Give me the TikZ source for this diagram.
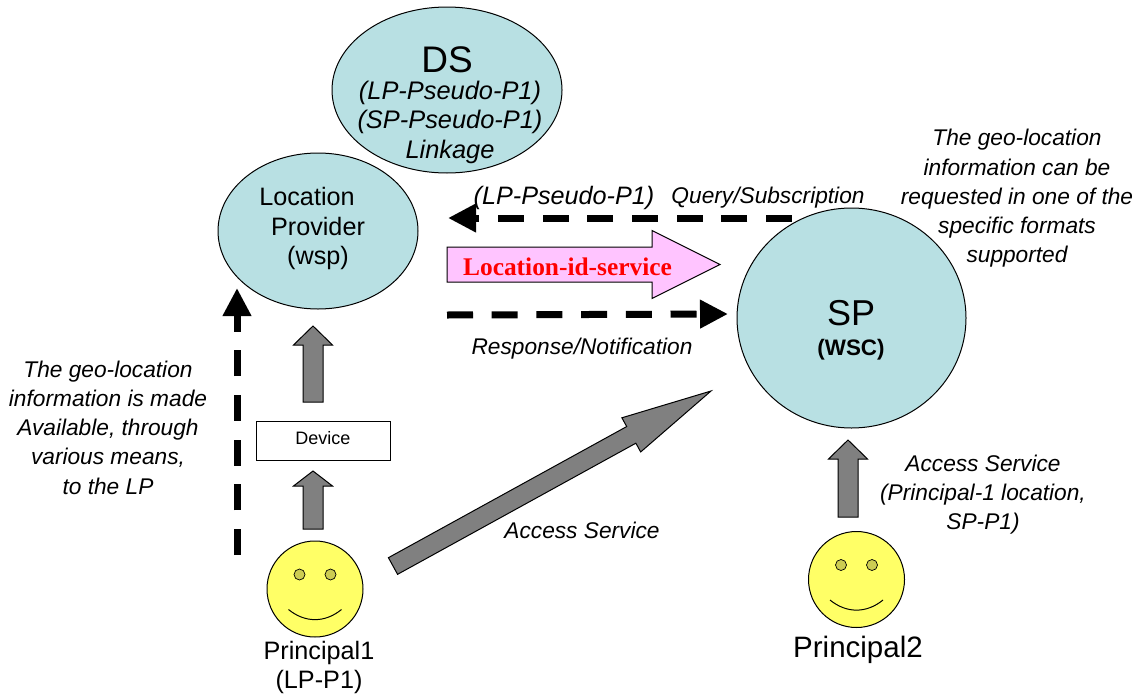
\documentclass[tikz,border=0pt]{standalone}
\usepackage{fontspec}
\setmainfont{Liberation Sans}
\newfontfamily\serifface{Liberation Serif}
\usetikzlibrary{positioning, arrows.meta, calc, shapes.geometric}
\definecolor{nodeteal}{HTML}{B8E0E3}
\definecolor{faceyellow}{HTML}{FFFF66}
\definecolor{eyeyellow}{HTML}{CCCC52}
\definecolor{servicepink}{HTML}{FFC4FF}
\definecolor{arrowgray}{HTML}{808080}

\tikzset{
    blockarrow/.style args={#1/#2/#3}{draw=black, line width=1pt, to path={
        ($(\tikztostart)!#1!90:(\tikztotarget)$)
        -- ($(\tikztotarget)!#3!(\tikztostart)!#1!-90:(\tikztostart)$)
        -- ($(\tikztotarget)!#3!(\tikztostart)!#2!-90:(\tikztostart)$)
        -- (\tikztotarget)
        -- ($(\tikztotarget)!#3!(\tikztostart)!#2!90:(\tikztostart)$)
        -- ($(\tikztotarget)!#3!(\tikztostart)!#1!90:(\tikztostart)$)
        -- ($(\tikztostart)!#1!-90:(\tikztotarget)$) -- cycle}},
    dashline/.style={line width=7pt, dash pattern=on 26pt off 18.7pt, -{Triangle[length=28pt,width=27pt]}},
    bubble/.style={ellipse, draw, line width=1pt, fill=nodeteal, inner sep=0pt},
    plain/.style={font=\fontsize{25.2}{29.5}\selectfont, align=center, inner sep=0pt},
    note/.style={font=\fontsize{22.7}{29.3}\selectfont\itshape, align=center, inner sep=0pt},
    smile/.pic={
        \node (-face) [circle, draw, line width=1pt, fill=faceyellow, minimum size=96pt, inner sep=0pt] at (0,0) {};
        \node (-eyea) [circle, draw, line width=0.7pt, fill=eyeyellow, minimum size=11pt, inner sep=0pt] at (-15.5,-14.5) {};
        \node (-eyeb) [circle, draw, line width=0.7pt, fill=eyeyellow, minimum size=11pt, inner sep=0pt] at (15.5,-14.5) {};
        \draw[line width=1pt] (-26.5,20.5) .. controls (-10,34) and (10,34) .. (26.5,20.5);
    },
}

\begin{document}
\begin{tikzpicture}[x=1pt, y=-1pt, >=Triangle]
\useasboundingbox (0,0) rectangle (1139,696);

% Ellipses
\node (lp) [bubble, minimum width=200pt, minimum height=156pt] at (318,231) {};
\node (ds) [bubble, minimum width=230pt, minimum height=166pt] at (447,90) {};
\node (sp) [bubble, minimum width=229pt, minimum height=220pt] at (851.5,318) {};

\node (dsname) [font=\fontsize{37}{37}\selectfont, inner sep=0pt] at (447,60) {DS};
\node (dsnote) [font=\fontsize{25.4}{29.5}\selectfont\itshape, align=center, inner sep=0pt] at (450,122) {(LP-Pseudo-P1)\\(SP-Pseudo-P1)\\Linkage};
\node (lpname) [plain, align=center] at (318,228.5) {\hspace*{-22pt}Location\\Provider\\(wsp)};
\node (spname) [font=\fontsize{36}{36}\selectfont, inner sep=0pt] at (851,313) {SP};
\node (spkind) [font=\fontsize{22.4}{22.4}\selectfont\bfseries, inner sep=0pt] at (851,350) {(WSC)};

% Device box
\node (device) [draw, line width=1pt, minimum width=134pt, minimum height=39pt, inner sep=0pt, font=\fontsize{18}{18}\selectfont, anchor=center] at (323,440.5) {\raisebox{6pt}{Device}};

% Principals
\pic (pa) at (315,589) {smile};
\pic (pb) at (856.5,579.5) {smile};
\node (panote) [plain, font=\fontsize{25.2}{28.5}\selectfont] at (319,667.5) {Principal1\\(LP-P1)};
\node (pbnote) [font=\fontsize{29.5}{30}\selectfont, inner sep=0pt] at (858,650) {Principal2};

% Block arrows
\coordinate (atail) at (313,529);
\coordinate (ahead) at (313,471);
\coordinate (btail) at (313,402);
\coordinate (bhead) at (313,326);
\coordinate (ctail) at (848,517);
\coordinate (chead) at (848,440);
\coordinate (dtail) at (393,566);
\coordinate (dhead) at (711,391);
\coordinate (stail) at (447,264.5);
\coordinate (shead) at (720,264.5);
\draw[blockarrow=10pt/19.5pt/15pt, fill=arrowgray] (atail) to (ahead);
\draw[blockarrow=10pt/19.5pt/19pt, fill=arrowgray] (btail) to (bhead);
\draw[blockarrow=10pt/19.5pt/19pt, fill=arrowgray] (ctail) to (chead);
\draw[blockarrow=9.5pt/19.5pt/91pt, fill=arrowgray] (dtail) to (dhead);
\draw[blockarrow=17.5pt/34pt/68pt, fill=servicepink] (stail) to (shead);
\node (service) [font=\fontsize{25.4}{25}\selectfont\serifface\bfseries, text=red, inner sep=0pt] at (567.5,267) {Location-id-service};

% Dashed arrows
\coordinate (qstart) at (792,218);
\coordinate (qend) at (448,218);
\coordinate (rstart) at (447,315);
\coordinate (rend) at (728,314);
\coordinate (vstart) at (237,555);
\coordinate (vend) at (237,288);
\draw[dashline] (qstart) -- (qend);
\draw[dashline] (rstart) -- (rend);
\draw[dashline] (vstart) -- (vend);

% Labels
\node (pseudo) [note, font=\fontsize{25.2}{29}\selectfont\itshape] at (564,197.5) {(LP-Pseudo-P1)};
\node (query) [note] at (768,197.5) {Query/Subscription};
\node (response) [note] at (582,349) {Response/Notification};
\node (access) [note] at (582,530.5) {Access Service};
\node (leftnote) [note] at (108,427.5) {The geo-location\\information is made\\Available, through\\various means,\\to the LP};
\node (rightnote) [note] at (1017,198.5) {The geo-location\\information can be\\requested in one of the\\specific formats\\supported};
\node (accessnote) [note] at (983,494.5) {Access Service\\(Principal-1 location,\\SP-P1)};
\end{tikzpicture}
\end{document}
